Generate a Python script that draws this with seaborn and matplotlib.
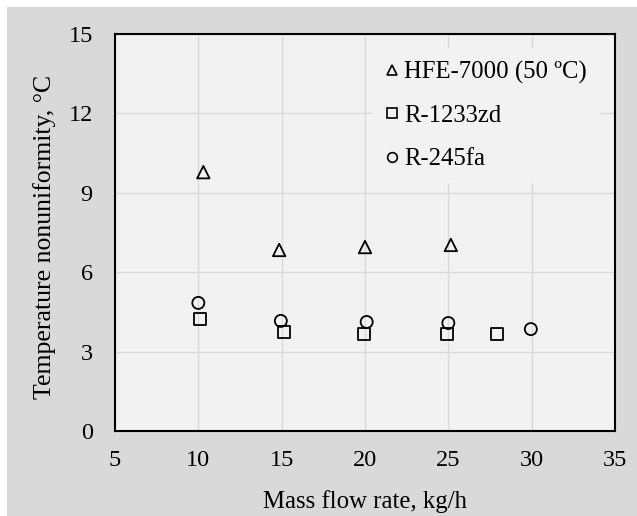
import matplotlib
matplotlib.use("Agg")
import matplotlib.pyplot as plt
import seaborn as sns
import pandas as pd
from matplotlib.patches import Rectangle
from matplotlib.lines import Line2D

# Data
hfe_x = [10.3, 14.85, 20.0, 25.15]
hfe_y = [9.78, 6.84, 6.95, 7.03]
r1233_x = [10.1, 15.15, 19.95, 24.9, 27.9]
r1233_y = [4.23, 3.74, 3.66, 3.66, 3.66]
r245_x = [10.0, 14.95, 20.1, 25.0, 29.95]
r245_y = [4.84, 4.16, 4.12, 4.08, 3.85]
labels = ["HFE-7000 (50 ºC)", "R-1233zd", "R-245fa"]
xticks = [5, 10, 15, 20, 25, 30, 35]
yticks = [0, 3, 6, 9, 12, 15]

sns.set_theme(style="white")
plt.rcParams['font.family'] = ['Liberation Serif', 'DejaVu Serif']
plt.rcParams['mathtext.fontset'] = 'stix'

fig = plt.figure(figsize=(6.37, 5.16), dpi=100, facecolor="white")
fig.patches.append(Rectangle((7/637, 0), 1, 1 - 7/516, transform=fig.transFigure,
                             facecolor="#d9d9d9", edgecolor="none", zorder=-10))
ax = fig.add_axes([115/637, (516-431)/516, 500/637, 397/516])
ax.set_facecolor("#f2f2f2")

df = pd.concat([
    pd.DataFrame({"x": hfe_x, "y": hfe_y, "fluid": labels[0]}),
    pd.DataFrame({"x": r1233_x, "y": r1233_y, "fluid": labels[1]}),
    pd.DataFrame({"x": r245_x, "y": r245_y, "fluid": labels[2]}),
])
markers = {labels[0]: "^", labels[1]: "s", labels[2]: "o"}
sizes = {labels[0]: 80, labels[1]: 75, labels[2]: 75}
for lab in labels:
    sub = df[df["fluid"] == lab]
    sns.scatterplot(data=sub, x="x", y="y", marker=markers[lab], s=sizes[lab],
                    facecolors="none", edgecolor="black", linewidth=1.3,
                    ax=ax, legend=False, zorder=3)

ax.set_xlim(5, 35)
ax.set_ylim(0, 15)
ax.set_xticks(xticks)
ax.set_yticks(yticks)
ax.grid(True, color="#d9d9d9", linewidth=1.0)
ax.set_axisbelow(True)
for s in ax.spines.values():
    s.set_color("black")
    s.set_linewidth(1.5)
ax.tick_params(axis="both", direction="in", length=4, width=1.2, color="black",
               labelsize=17.5, labelcolor="black")
ax.tick_params(axis="y", pad=16)
ax.tick_params(axis="x", pad=14)

ax.set_xlabel("Mass flow rate, kg/h", fontsize=17.8, color="black")
ax.set_ylabel("Temperature nonuniformity, °C", fontsize=18.5, color="black")
ax.xaxis.set_label_coords(0.5, -0.148)
ax.yaxis.set_label_coords(-0.118, 0.49)

handles = [Line2D([], [], linestyle="none", marker=markers[l], markersize=7,
                  markerfacecolor="none", markeredgecolor="black", markeredgewidth=1.2)
           for l in labels]
leg = ax.legend(handles, labels, loc="upper left", bbox_to_anchor=(0.49, 0.995),
                frameon=True, facecolor="#f2f2f2", edgecolor="none", framealpha=1,
                fontsize=17.8, handlelength=0.6, handletextpad=0.2,
                labelspacing=0.85, borderpad=0.5, fancybox=False)
for t in leg.get_texts():
    t.set_color("black")

fig.savefig("out.png", dpi=100, facecolor=fig.get_facecolor())
